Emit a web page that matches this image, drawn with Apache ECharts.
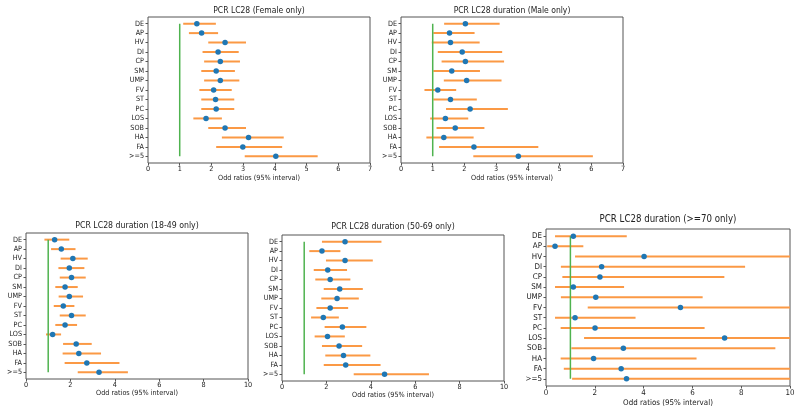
<!doctype html>
<html>
<head>
    <meta charset="UTF-8">
    <title>PCR LC28 odd ratios</title>
    <script src="https://cdn.jsdelivr.net/npm/echarts@6/dist/echarts.min.js"></script>
    <style>
        html, body { margin: 0; padding: 0; background: #fff; }
        #main { width: 800px; height: 416px; }
    </style>
</head>
<body>
<div id="main"></div>
<script type="text/javascript">
    // symptom rows, top to bottom
    var rowNames = ['DE', 'AP', 'HV', 'DI', 'CP', 'SM', 'UMP', 'FV', 'ST', 'PC', 'LOS', 'SOB', 'HA', 'FA', '>=5'];

    // odd ratio, lower and upper bound of the 95% interval
    var femaleOR = [1.54, 1.69, 2.43, 2.21, 2.28, 2.15, 2.28, 2.07, 2.13, 2.15, 1.83, 2.43, 3.17, 2.99, 4.03];
    var femaleLo = [1.11, 1.29, 1.90, 1.72, 1.77, 1.68, 1.77, 1.62, 1.68, 1.68, 1.43, 1.90, 2.33, 2.15, 3.05];
    var femaleHi = [2.14, 2.21, 3.09, 2.86, 2.90, 2.74, 2.88, 2.64, 2.72, 2.72, 2.33, 3.09, 4.28, 4.23, 5.35];

    var maleOR = [2.03, 1.53, 1.56, 1.93, 2.03, 1.60, 2.07, 1.16, 1.56, 2.18, 1.40, 1.71, 1.35, 2.30, 3.70];
    var maleLo = [1.36, 1.02, 0.97, 1.16, 1.28, 1.02, 1.35, 0.74, 1.02, 1.42, 0.92, 1.12, 0.80, 1.20, 2.28];
    var maleHi = [3.11, 2.32, 2.48, 3.19, 3.25, 2.49, 3.17, 1.74, 2.39, 3.37, 2.12, 2.63, 2.29, 4.33, 6.05];

    var age18OR = [1.29, 1.59, 2.11, 1.95, 2.05, 1.76, 1.95, 1.68, 2.05, 1.76, 1.20, 2.26, 2.38, 2.74, 3.29];
    var age18Lo = [0.83, 1.13, 1.56, 1.46, 1.52, 1.32, 1.47, 1.25, 1.52, 1.32, 0.90, 1.67, 1.65, 1.74, 2.33];
    var age18Hi = [1.95, 2.23, 2.78, 2.63, 2.69, 2.33, 2.57, 2.18, 2.69, 2.30, 1.58, 2.96, 3.38, 4.21, 4.59];

    var age50OR = [2.84, 1.80, 2.84, 2.06, 2.17, 2.60, 2.48, 2.17, 1.86, 2.72, 2.05, 2.57, 2.77, 2.87, 4.62];
    var age50Lo = [1.80, 1.23, 1.98, 1.43, 1.50, 1.88, 1.77, 1.55, 1.31, 1.92, 1.47, 1.80, 1.95, 1.88, 3.23];
    var age50Hi = [4.48, 2.63, 4.09, 2.93, 3.08, 3.64, 3.46, 2.98, 2.56, 3.80, 2.83, 3.61, 3.98, 4.44, 6.62];

    // upper bounds of 11 run past the right edge of the axis
    var age70OR = [1.12, 0.37, 4.02, 2.28, 2.21, 1.12, 2.04, 5.51, 1.19, 2.01, 7.32, 3.17, 1.95, 3.08, 3.30];
    var age70Lo = [0.37, 0.05, 1.19, 0.61, 0.67, 0.37, 0.61, 1.71, 0.37, 0.60, 1.56, 1.04, 0.60, 0.73, 1.07];
    var age70Hi = [3.31, 1.53, 11, 8.16, 7.31, 3.20, 6.42, 11, 3.67, 6.50, 11, 9.40, 6.17, 11, 11];

    var axisName = 'Odd ratios (95% interval)';
    var font = '"DejaVu Sans Condensed", "DejaVu Sans", sans-serif';
    var textColor = '#222';
    var lineColor = '#555';

    var panels = [
        {title: 'PCR LC28 (Female only)', or: femaleOR, lo: femaleLo, hi: femaleHi,
            box: [148, 17, 222, 146], xMax: 7, step: 1, titleSize: 8.5, labelSize: 7.2, titleTop: 6, nameGap: 11.5},
        {title: 'PCR LC28 duration (Male only)', or: maleOR, lo: maleLo, hi: maleHi,
            box: [401, 17, 222, 146], xMax: 7, step: 1, titleSize: 8.5, labelSize: 7.2, titleTop: 6.5, nameGap: 11.5},
        {title: 'PCR LC28 duration (18-49 only)', or: age18OR, lo: age18Lo, hi: age18Hi,
            box: [26, 233, 222, 146], xMax: 10, step: 2, titleSize: 8.7, labelSize: 7.2, titleTop: 221, nameGap: 10.5},
        {title: 'PCR LC28 duration (50-69 only)', or: age50OR, lo: age50Lo, hi: age50Hi,
            box: [282, 235, 222, 146], xMax: 10, step: 2, titleSize: 8.7, labelSize: 7.2, titleTop: 222, nameGap: 10.5},
        {title: 'PCR LC28 duration (>=70 only)', or: age70OR, lo: age70Lo, hi: age70Hi,
            box: [546, 229, 244, 157], xMax: 10, step: 2, titleSize: 9.6, labelSize: 7.9, titleTop: 214.5, nameGap: 12.5}
    ];

    function drawBar(params, api) {
        var p1 = api.coord([api.value(0), api.value(2)]);
        var p2 = api.coord([api.value(1), api.value(2)]);
        return {
            type: 'line',
            shape: {x1: p1[0], y1: p1[1], x2: p2[0], y2: p2[1]},
            style: {stroke: '#fb9945', lineWidth: 2}
        };
    }

    var option = {
        backgroundColor: '#fff',
        animation: false,
        title: [], grid: [], xAxis: [], yAxis: [], series: []
    };

    panels.forEach(function (p, i) {
        var l = p.box[0], t = p.box[1], w = p.box[2], h = p.box[3];
        // matplotlib keeps 0.7 of a row free above the first and below the last row
        var inset = h * 0.2 / 15.4;
        var outer = 2 * i, inner = 2 * i + 1;

        option.title.push({
            text: p.title, left: l + w / 2, top: p.titleTop, textAlign: 'center', padding: 0,
            textStyle: {fontFamily: font, fontSize: p.titleSize, fontWeight: 'normal', color: textColor}
        });

        option.grid.push({left: l, top: t, width: w, height: h, show: true,
            borderColor: lineColor, borderWidth: 1});
        option.grid.push({left: l, top: t + inset, width: w, height: h - 2 * inset});

        option.xAxis.push({
            gridIndex: outer, type: 'value', min: 0, max: p.xMax, interval: p.step,
            axisLine: {show: false},
            axisTick: {show: true, length: 2.5, lineStyle: {color: lineColor}},
            splitLine: {show: false},
            axisLabel: {fontFamily: font, fontSize: p.labelSize, color: textColor, margin: 2.5},
            name: axisName, nameLocation: 'middle', nameGap: p.nameGap,
            nameTextStyle: {fontFamily: font, fontSize: p.labelSize, color: textColor}
        });
        option.xAxis.push({gridIndex: inner, type: 'value', min: 0, max: p.xMax, show: false});

        option.yAxis.push({gridIndex: outer, type: 'value', show: false});
        option.yAxis.push({
            gridIndex: inner, type: 'category', data: rowNames, inverse: true,
            axisLine: {show: false},
            axisTick: {show: true, alignWithLabel: true, length: 2.5, lineStyle: {color: lineColor}},
            splitLine: {show: false},
            axisLabel: {fontFamily: font, fontSize: p.labelSize, color: textColor, margin: 4, interval: 0}
        });

        option.series.push({
            type: 'custom', xAxisIndex: inner, yAxisIndex: inner, clip: true, silent: true,
            renderItem: drawBar, encode: {x: [0, 1], y: 2},
            data: p.lo.map(function (v, k) { return [v, p.hi[k], k]; }),
            z: 2
        });
        option.series.push({
            type: 'line', xAxisIndex: inner, yAxisIndex: inner, symbol: 'none', silent: true,
            data: [[1, rowNames[0]], [1, rowNames[rowNames.length - 1]]],
            lineStyle: {color: '#4fb34f', width: 1.5},
            z: 3
        });
        option.series.push({
            type: 'scatter', xAxisIndex: inner, yAxisIndex: inner, symbolSize: 5.5,
            data: p.or.map(function (v, k) { return [v, rowNames[k]]; }),
            itemStyle: {color: '#1f77b4', opacity: 1},
            z: 4
        });
    });

    var myChart = echarts.init(document.getElementById('main'));
    myChart.setOption(option);
</script>
</body>
</html>
